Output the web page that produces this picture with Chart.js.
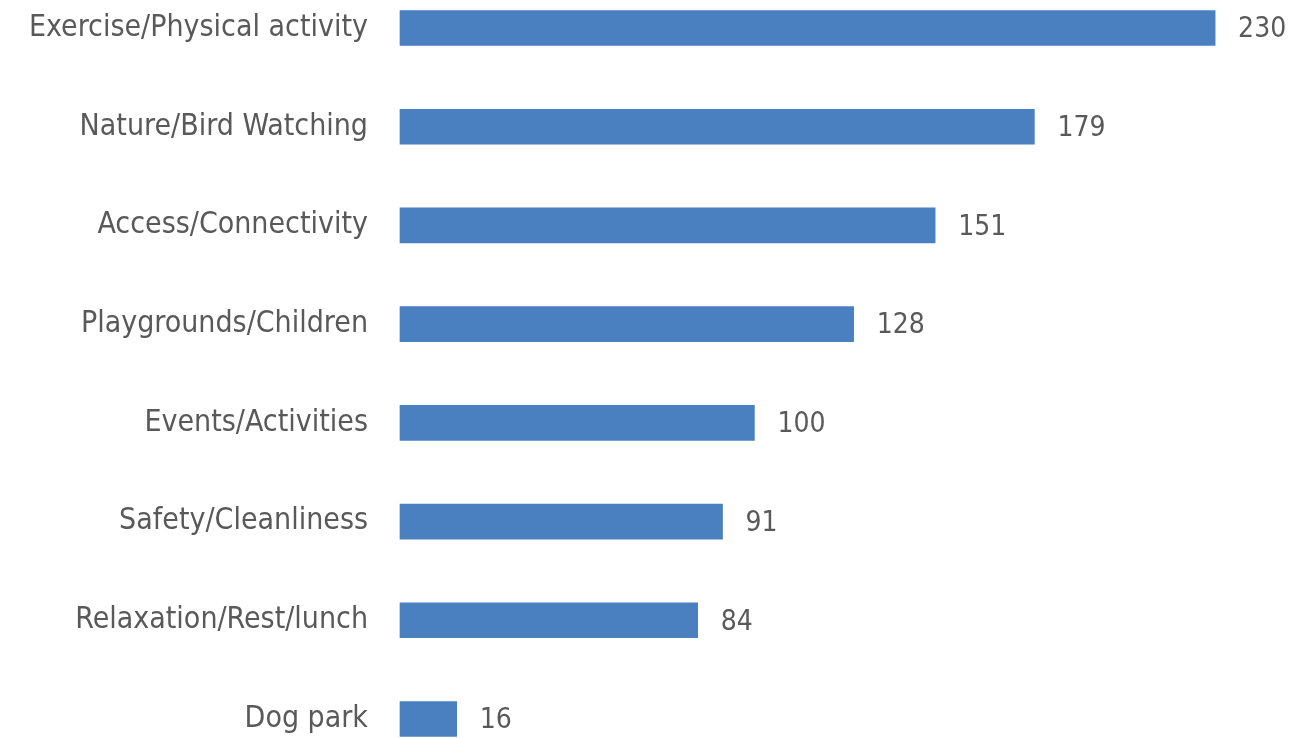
<!DOCTYPE html>
<html>
<head>
<meta charset="utf-8">
<script src="https://cdn.jsdelivr.net/npm/chart.js@4/dist/chart.umd.min.js"></script>
<style>
  html, body { margin: 0; padding: 0; background: #fff; overflow: hidden; }
  #wrap { position: relative; width: 1312px; height: 738px; }
</style>
</head>
<body>
<div id="wrap"><canvas id="ChartReasons"></canvas></div>
<script>
const categories = ['Exercise/Physical activity', 'Nature/Bird Watching', 'Access/Connectivity',
  'Playgrounds/Children', 'Events/Activities', 'Safety/Cleanliness', 'Relaxation/Rest/lunch', 'Dog park'];
const counts = [230, 179, 151, 128, 100, 91, 84, 16];

const textColor = '#595959';
const fontFamily = "'Liberation Sans Narrow', 'DejaVu Sans Condensed', Roboto, sans-serif";

// draws the number just right of each bar
const valueLabels = {
  id: 'valueLabels',
  afterDatasetsDraw(chart) {
    const c = chart.ctx;
    const meta = chart.getDatasetMeta(0);
    c.save();
    c.font = '28px ' + fontFamily;
    c.fillStyle = textColor;
    c.textAlign = 'left';
    c.textBaseline = 'middle';
    meta.data.forEach(function(bar, i){
      c.fillText(counts[i], bar.x + 23, bar.y + 2);
    });
    c.restore();
  }
};

const ctx = document.getElementById('ChartReasons');
let ChartReasons = new Chart(ctx, {
  type: 'bar',
  data: {
    labels: categories,
    datasets: [{
      data: counts,
      backgroundColor: '#4a7fc0',
      borderWidth: 0,
      barThickness: 35,
      clip: false // first/last bars sit on the area edge
    }]
  },
  options: {
    indexAxis: 'y',
    responsive: true,
    maintainAspectRatio: false,
    animation: false,
    layout: { padding: { top: 28, bottom: 19, right: 26, left: 0 } },
    plugins: {
      legend: false,
      tooltip: { enabled: false }
    },
    scales: {
      x: { display: false, min: 0, max: 250 },
      y: {
        offset: false,
        grid: { display: false, drawTicks: false },
        border: { display: false },
        afterFit(scale) {
          scale.width = 400;
          scale.paddingTop = 0;
          scale.paddingBottom = 0;
        },
        ticks: {
          padding: 32,
          color: textColor,
          font: { family: fontFamily, size: 30 }
        }
      }
    }
  },
  plugins: [valueLabels]
});
</script>
</body>
</html>
